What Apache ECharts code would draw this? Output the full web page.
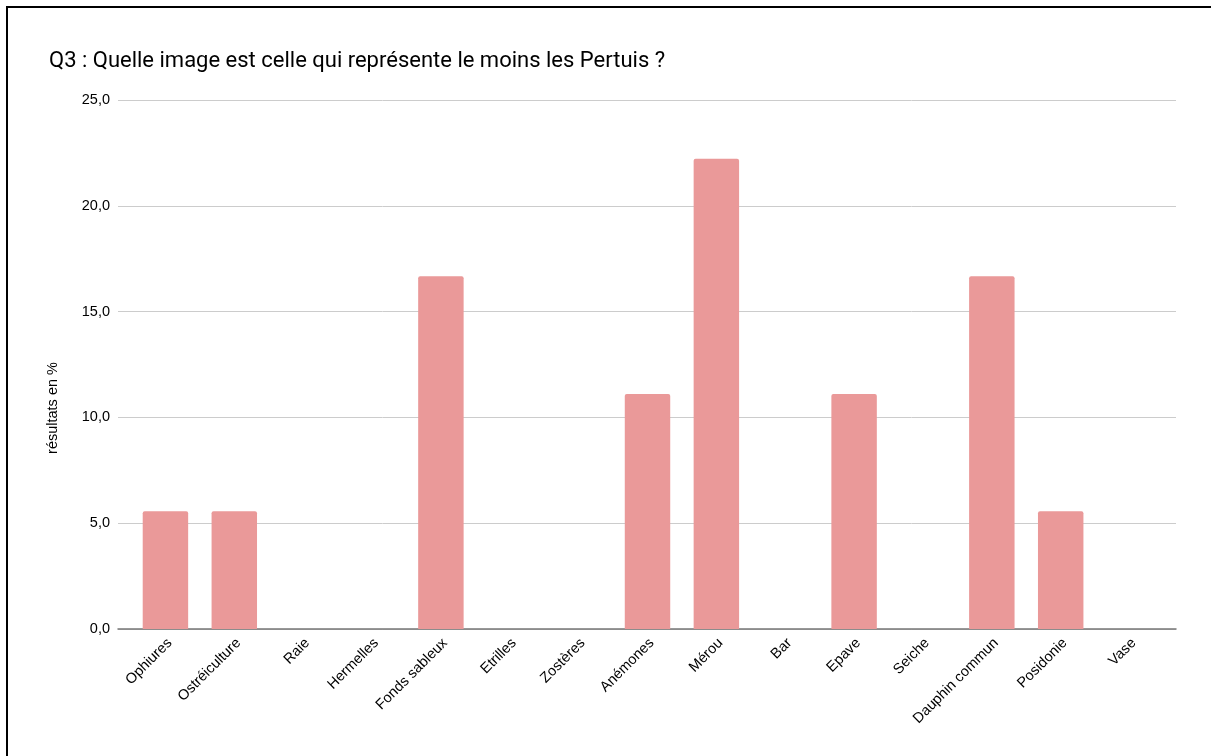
<!DOCTYPE html>
<html>
<head>
<meta charset="utf-8">
<script src="https://cdn.jsdelivr.net/npm/echarts@6/dist/echarts.min.js"></script>
<style>
  html, body { margin: 0; padding: 0; background: #fff; overflow: hidden; }
  #frame { position: absolute; left: 6px; top: 6px; width: 1230px; height: 780px; border: 2px solid #000; box-sizing: border-box; }
  #chart { position: absolute; left: 0; top: 0; width: 1211px; height: 756px; }
</style>
</head>
<body>
<div id="frame"></div>
<div id="chart"></div>
<script>
document.addEventListener('DOMContentLoaded', function () {
    const chart = echarts.init(document.getElementById('chart'));

    // données
    const categories = ['Ophiures', 'Ostréiculture', 'Raie', 'Hermelles', 'Fonds sableux', 'Etrilles', 'Zostères',
        'Anémones', 'Mérou', 'Bar', 'Epave', 'Seiche', 'Dauphin commun', 'Posidonie', 'Vase'];
    const resultats = [5.56, 5.56, 0, 0, 16.67, 0, 0, 11.11, 22.22, 0, 11.11, 0, 16.67, 5.56, 0];

    const font = 'Arial, "Liberation Sans", sans-serif';

    chart.setOption({
        animation: false,
        title: {
            text: 'Q3 : Quelle image est celle qui représente le moins les Pertuis ?',
            left: 44, top: 45,
            textStyle: { fontFamily: 'Roboto, sans-serif', fontSize: 22, fontWeight: 'normal', color: '#000' }
        },
        // grille 0 : quadrillage et ligne d'axe ; grille 1 : barres (un peu en retrait, comme Google Sheets)
        grid: [
            { left: 118, right: 35, top: 100, bottom: 127 },
            { left: 131, right: 47, top: 100, bottom: 127 }
        ],
        xAxis: [{
            type: 'category',
            gridIndex: 0,
            data: categories,
            axisLine: { lineStyle: { color: '#777', width: 1.5 } },
            axisTick: { show: false },
            axisLabel: { show: false }
        }, {
            type: 'category',
            gridIndex: 1,
            data: categories,
            axisLine: { show: false },
            axisTick: { show: false },
            axisLabel: {
                rotate: 45, interval: 0, margin: 16, color: '#000', fontFamily: font, fontSize: 14.5,
                padding: [0, -6, 0, 0]
            }
        }],
        yAxis: [{
            type: 'value',
            gridIndex: 0,
            min: 0, max: 25, interval: 5,
            axisLine: { show: false },
            axisTick: { show: false },
            splitLine: { lineStyle: { color: '#ccc' } },
            axisLabel: {
                color: '#000', fontFamily: font, fontSize: 14.5, margin: 8,
                formatter: v => v.toFixed(1).replace('.', ',')
            }
        }, {
            type: 'value',
            gridIndex: 1,
            min: 0, max: 25, interval: 5,
            show: false
        }],
        graphic: [{
            type: 'text',
            x: 53, y: 408,
            rotation: Math.PI / 2,
            style: {
                text: 'résultats en %', fill: '#000', font: '14.5px ' + font,
                align: 'center', verticalAlign: 'middle'
            }
        }],
        series: [{
            type: 'bar',
            xAxisIndex: 1,
            yAxisIndex: 1,
            data: resultats,
            barWidth: '66%',
            itemStyle: { color: '#ea9999', borderRadius: [2, 2, 0, 0] }
        }]
    });
});
</script>
</body>
</html>
